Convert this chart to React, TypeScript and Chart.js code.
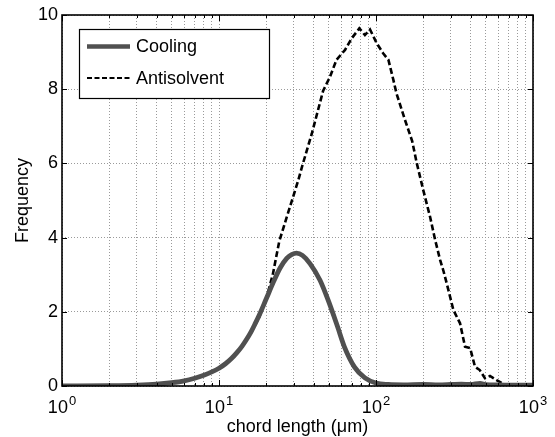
import React, { useEffect, useRef } from 'react';
import { Chart, registerables } from 'chart.js';

Chart.register(...registerables);

const FONT = '"Liberation Sans", Arial, Helvetica, sans-serif';

// Data
const SERIES_LABELS = ['Cooling', 'Antisolvent'];

const COOLING_X = [1, 2, 3, 4, 5, 6, 7, 8, 9, 10, 11, 12, 13, 14, 15, 16, 17, 18, 20, 22.2, 24.5, 27, 29, 31.2, 34, 38, 44, 49.5, 57, 63, 73, 85, 100, 120, 150, 200, 250, 300, 350, 400, 460, 500, 600, 800, 1000];
const COOLING_Y = [0, 0.01, 0.025, 0.05, 0.09, 0.14, 0.21, 0.29, 0.38, 0.48, 0.6, 0.74, 0.9, 1.07, 1.26, 1.46, 1.68, 1.9, 2.35, 2.8, 3.18, 3.44, 3.54, 3.58, 3.52, 3.3, 2.85, 2.32, 1.59, 1.05, 0.51, 0.22, 0.08, 0.04, 0.03, 0.04, 0.03, 0.04, 0.05, 0.04, 0.07, 0.04, 0.03, 0.02, 0.02];

const ANTISOLVENT_X = [1, 2, 3, 4, 5, 6, 7, 8, 9, 10, 12, 14, 16, 18, 20, 22, 24.2, 27, 29.4, 32, 34, 39, 46, 51, 56, 63.5, 70, 78.3, 85, 91.6, 101, 111, 120, 129, 135, 153, 170, 182, 200, 221, 238, 256, 269, 282, 311, 343, 369, 398, 427, 458, 494, 532, 586, 662, 800, 1000];
const ANTISOLVENT_Y = [0, 0.01, 0.025, 0.05, 0.09, 0.14, 0.21, 0.29, 0.38, 0.48, 0.74, 1.05, 1.44, 1.85, 2.35, 3.0, 3.9, 4.55, 5.05, 5.55, 5.95, 6.8, 7.95, 8.34, 8.79, 9.06, 9.37, 9.64, 9.46, 9.61, 9.24, 8.97, 8.79, 8.25, 7.89, 7.17, 6.6, 6.0, 5.28, 4.56, 3.94, 3.4, 3.1, 2.77, 2.05, 1.69, 1.06, 1.02, 0.52, 0.43, 0.21, 0.27, 0.16, 0.03, 0, 0];

const X_GRID = [1, 2, 3, 4, 5, 6, 7, 8, 9, 10, 20, 30, 40, 50, 60, 70, 80, 90, 100, 200, 300, 400, 500, 600, 700, 800, 900, 1000];
const X_MAJOR = [1, 10, 100, 1000];
const X_TICK_BASE = '10';
const X_TICK_EXP = ['0', '1', '2', '3'];
const Y_TICKS = [0, 2, 4, 6, 8, 10];

const X_TITLE = 'chord length (\u03BCm)';
const Y_TITLE = 'Frequency';

const COOLING_COLOR = '#505050';
const ANTI_COLOR = '#000000';

const framePlugin = {
  id: 'frame',
  afterDatasetsDraw(chart: any) {
    const ctx = chart.ctx as CanvasRenderingContext2D;
    const { left, right, top, bottom } = chart.chartArea;
    const xs = chart.scales.x;
    const ys = chart.scales.y;
    ctx.save();
    // inward ticks
    ctx.strokeStyle = '#000';
    ctx.lineWidth = 1;
    ctx.beginPath();
    X_GRID.forEach((v) => {
      const px = Math.round(xs.getPixelForValue(v)) + 0.5;
      const len = X_MAJOR.includes(v) ? 6 : 3;
      ctx.moveTo(px, bottom);
      ctx.lineTo(px, bottom - len);
      ctx.moveTo(px, top);
      ctx.lineTo(px, top + len);
    });
    Y_TICKS.forEach((v) => {
      const py = Math.round(ys.getPixelForValue(v)) + 0.5;
      ctx.moveTo(left, py);
      ctx.lineTo(left + 5, py);
      ctx.moveTo(right, py);
      ctx.lineTo(right - 5, py);
    });
    ctx.stroke();
    // box
    ctx.lineWidth = 1.6;
    ctx.strokeRect(left, top, right - left, bottom - top);

    // x tick labels with superscript exponents
    ctx.fillStyle = '#000';
    ctx.textBaseline = 'alphabetic';
    ctx.textAlign = 'left';
    X_MAJOR.forEach((v, i) => {
      const px = xs.getPixelForValue(v);
      ctx.font = `18px ${FONT}`;
      const w1 = ctx.measureText(X_TICK_BASE).width;
      ctx.font = `13px ${FONT}`;
      const w2 = ctx.measureText(X_TICK_EXP[i]).width;
      const start = px - (w1 + 1 + w2) / 2;
      ctx.font = `18px ${FONT}`;
      ctx.fillText(X_TICK_BASE, start, bottom + 27);
      ctx.font = `13px ${FONT}`;
      ctx.fillText(X_TICK_EXP[i], start + w1 + 1, bottom + 19);
    });

    // legend
    const lx = 79, ly = 29, lw = 190, lh = 69;
    ctx.fillStyle = '#fff';
    ctx.fillRect(lx, ly, lw, lh);
    ctx.lineWidth = 1.2;
    ctx.strokeStyle = '#000';
    ctx.strokeRect(lx + 0.5, ly + 0.5, lw, lh);
    const rows = [ly + 17.5, ly + 49];
    chart.data.datasets.forEach((ds: any, i: number) => {
      ctx.save();
      ctx.strokeStyle = ds.borderColor;
      ctx.lineWidth = i === 0 ? 4.5 : 2.2;
      ctx.setLineDash(i === 0 ? [] : [5, 2.5]);
      ctx.beginPath();
      ctx.moveTo(lx + 8, rows[i]);
      ctx.lineTo(lx + 51, rows[i]);
      ctx.stroke();
      ctx.restore();
      ctx.fillStyle = '#000';
      ctx.font = `18px ${FONT}`;
      ctx.textBaseline = 'middle';
      ctx.fillText(ds.label, lx + 57, rows[i] + 1);
    });
    ctx.restore();
  },
};

export default function App() {
  const canvasRef = useRef<HTMLCanvasElement | null>(null);

  useEffect(() => {
    document.body.style.margin = '0';
    const canvas = canvasRef.current;
    if (!canvas) return;
    const chart = new Chart(canvas, {
      type: 'line',
      data: {
        datasets: [
          {
            label: SERIES_LABELS[0],
            data: COOLING_X.map((x, i) => ({ x, y: COOLING_Y[i] })),
            borderColor: COOLING_COLOR,
            borderWidth: 4.8,
            pointRadius: 0,
            cubicInterpolationMode: 'monotone',
            fill: false,
          },
          {
            label: SERIES_LABELS[1],
            data: ANTISOLVENT_X.map((x, i) => ({ x, y: ANTISOLVENT_Y[i] })),
            borderColor: ANTI_COLOR,
            borderWidth: 2.6,
            borderDash: [6, 3],
            pointRadius: 0,
            tension: 0,
            fill: false,
          },
        ],
      },
      options: {
        animation: false,
        responsive: true,
        maintainAspectRatio: false,
        layout: { padding: { top: 15, right: 22, left: 0, bottom: 0 } },
        plugins: {
          legend: { display: false },
          tooltip: { enabled: false },
        },
        scales: {
          x: {
            type: 'logarithmic',
            min: 1,
            max: 1000,
            afterBuildTicks: (scale: any) => {
              scale.ticks = X_GRID.map((v) => ({ value: v }));
            },
            afterFit: (scale: any) => {
              scale.height = 51;
            },
            ticks: { display: false, autoSkip: false },
            grid: { color: '#9a9a9a', lineWidth: 1, drawTicks: false },
            border: { display: false, dash: [1, 2] },
            title: {
              display: true,
              text: X_TITLE,
              color: '#000',
              font: { family: FONT, size: 18, lineHeight: 1.1 },
              padding: { top: 0, bottom: 0 },
            },
          },
          y: {
            type: 'linear',
            min: 0,
            max: 10,
            afterBuildTicks: (scale: any) => {
              scale.ticks = Y_TICKS.map((v) => ({ value: v }));
            },
            afterFit: (scale: any) => {
              scale.width = 62;
            },
            ticks: {
              color: '#000',
              font: { family: FONT, size: 18 },
              padding: 4,
            },
            grid: { color: '#9a9a9a', lineWidth: 1, drawTicks: false },
            border: { display: false, dash: [1, 2] },
            title: {
              display: true,
              text: Y_TITLE,
              color: '#000',
              font: { family: FONT, size: 18, lineHeight: 1.2 },
              padding: { top: 12, bottom: 0 },
            },
          },
        },
      },
      plugins: [framePlugin],
    } as any);
    return () => chart.destroy();
  }, []);

  return (
    <div style={{ position: 'fixed', left: 0, top: 0, width: 555, height: 437, background: '#fff' }}>
      <canvas ref={canvasRef} />
    </div>
  );
}
